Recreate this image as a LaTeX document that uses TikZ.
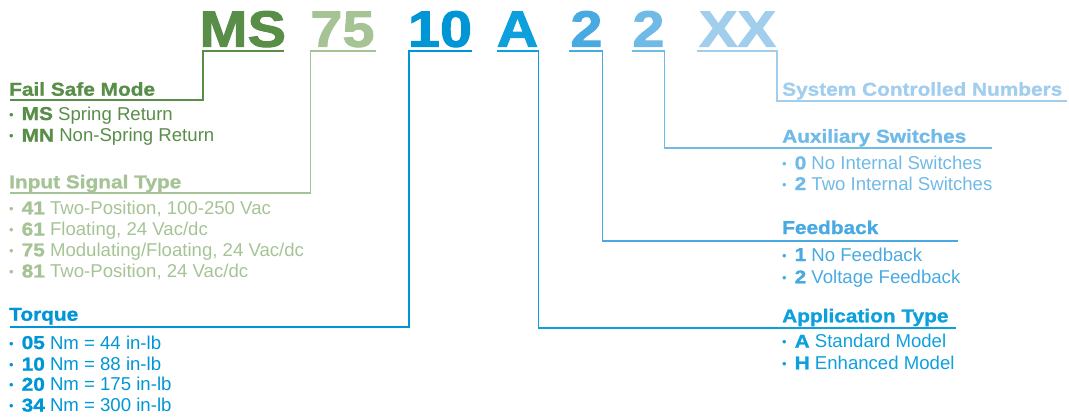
\documentclass[tikz,border=0pt]{standalone}
\usepackage{fontspec}
\setmainfont{Liberation Sans}
\newfontfamily\hvy{Liberation Sans Bold}[FakeStretch=1.12,FakeBold=1.2]
\newfontfamily\codefont{Liberation Sans Bold}[FakeStretch=1.13,FakeBold=2]
\definecolor{cA}{RGB}{88,142,72}
\definecolor{cB}{RGB}{166,195,150}
\definecolor{cC}{RGB}{0,150,214}
\definecolor{cD}{RGB}{14,160,220}
\definecolor{cE}{RGB}{72,170,225}
\definecolor{cF}{RGB}{112,186,231}
\definecolor{cG}{RGB}{162,206,238}
\newcommand{\bl}[1]{\makebox[12.5pt][l]{\raisebox{0.8pt}{\fontsize{13}{13}\selectfont\textbullet}}{\hvy #1}\ }
\tikzset{
  code/.style={anchor=base, inner sep=0pt, font=\codefont\fontsize{51}{51}\selectfont},
  head/.style={anchor=base west, inner sep=0pt, font=\hvy\fontsize{18.6}{20}\selectfont},
  item/.style={anchor=base west, inner sep=0pt, font=\fontsize{18.6}{20}\selectfont},
  lead/.style={line width=1.7pt}
}
\begin{document}
\begin{tikzpicture}[x=1pt,y=-1pt]
\useasboundingbox (0,0) rectangle (1069,418);
% code letters
\node[code,text=cA] (ms) at (242.8,46.7) {MS};
\node[code,text=cB] (c75) at (342.5,46.7) {75};
\node[code,text=cC] (c10) at (440,46.7) {10};
\node[code,text=cD] (cA) at (517.5,46.7) {A};
\node[code,text=cE] (c2a) at (586.5,46.7) {2};
\node[code,text=cF] (c2b) at (648.5,46.7) {2};
\node[code,text=cG] (cXX) at (737.5,46.7) {XX};
% left headings and items
\node[head,text=cA] (fsm) at (9,95.7) {Fail Safe Mode};
\node[item,text=cA] (fsm1) at (9,120) {\bl{MS}Spring Return};
\node[item,text=cA] (fsm2) at (9,141.7) {\bl{MN}Non-Spring Return};
\node[head,text=cB] (ist) at (9,188.3) {Input Signal Type};
\node[item,text=cB] (ist1) at (9,214.3) {\bl{41}Two-Position, 100-250 Vac};
\node[item,text=cB] (ist2) at (9,235.6) {\bl{61}Floating, 24 Vac/dc};
\node[item,text=cB] (ist3) at (9,256.3) {\bl{75}Modulating/Floating, 24 Vac/dc};
\node[item,text=cB] (ist4) at (9,277.4) {\bl{81}Two-Position, 24 Vac/dc};
\node[head,text=cC] (tq) at (9,320.7) {Torque};
\node[item,text=cC] (tq1) at (9,349) {\bl{05}Nm = 44 in-lb};
\node[item,text=cC] (tq2) at (9,370.5) {\bl{10}Nm = 88 in-lb};
\node[item,text=cC] (tq3) at (9,390.7) {\bl{20}Nm = 175 in-lb};
\node[item,text=cC] (tq4) at (9,411.5) {\bl{34}Nm = 300 in-lb};
% right headings and items
\node[head,text=cG] (scn) at (782,95.7) {System Controlled Numbers};
\node[head,text=cF] (aux) at (782,142.7) {Auxiliary Switches};
\node[item,text=cF] (aux1) at (782,169.3) {\bl{0}No Internal Switches};
\node[item,text=cF] (aux2) at (782,190) {\bl{2}Two Internal Switches};
\node[head,text=cE] (fb) at (782,234) {Feedback};
\node[item,text=cE] (fb1) at (782,261) {\bl{1}No Feedback};
\node[item,text=cE] (fb2) at (782,283.3) {\bl{2}Voltage Feedback};
\node[head,text=cD] (app) at (782,322.3) {Application Type};
\node[item,text=cD] (app1) at (782,347.7) {\bl{A}Standard Model};
\node[item,text=cD] (app2) at (782,369.3) {\bl{H}Enhanced Model};
% connector coordinates
\coordinate (msL) at (203,51);   \coordinate (msR) at (283.5,51);  \coordinate (fsmE) at (10,100);
\coordinate (s75L) at (310.5,51);\coordinate (s75R) at (375.5,51); \coordinate (istE) at (10,193.3);
\coordinate (s10L) at (409,51);  \coordinate (s10R) at (472,51);   \coordinate (tqE) at (10,326.7);
\coordinate (sAL) at (497,51);   \coordinate (sAR) at (538.5,51);  \coordinate (appE) at (955.7,327.7);
\coordinate (s2aL) at (569,51);  \coordinate (s2aR) at (602.5,51); \coordinate (fbE) at (957.7,240.7);
\coordinate (s2bL) at (632,51);  \coordinate (s2bR) at (664.5,51); \coordinate (auxE) at (991.7,148.3);
\coordinate (sXL) at (697,51);   \coordinate (sXR) at (777,51);    \coordinate (scnE) at (1066.7,101);
% connectors
\draw[lead,cA] (fsmE) -| (msL) -- (msR);
\draw[lead,cB] (istE) -| (s75L) -- (s75R);
\draw[lead,cC] (tqE) -| (s10L) -- (s10R);
\draw[lead,cD] (sAL) -- (sAR) |- (appE);
\draw[lead,cE] (s2aL) -- (s2aR) |- (fbE);
\draw[lead,cF] (s2bL) -- (s2bR) |- (auxE);
\draw[lead,cG] (sXL) -- (sXR) |- (scnE);
\end{tikzpicture}
\end{document}
